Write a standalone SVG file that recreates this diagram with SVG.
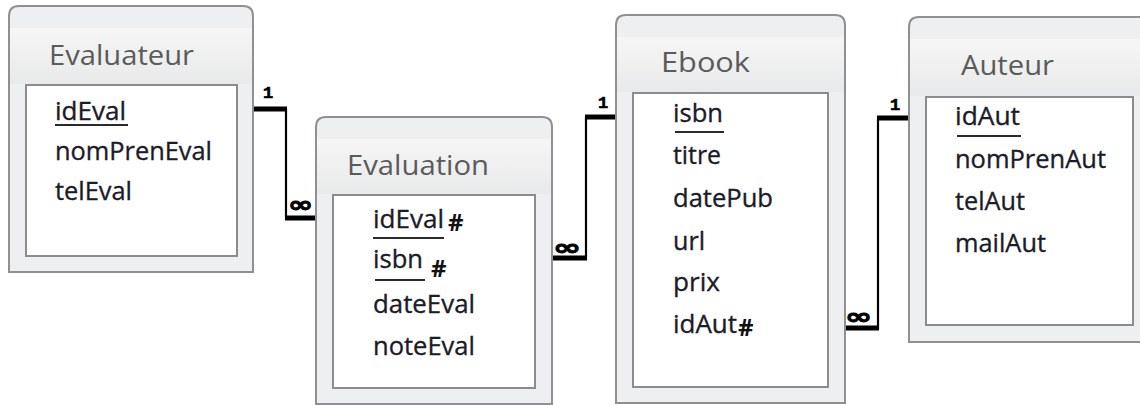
<svg xmlns="http://www.w3.org/2000/svg" width="1140" height="405" viewBox="0 0 1140 405">
<defs>
<linearGradient id="band" x1="0" y1="0" x2="0" y2="1">
<stop offset="0" stop-color="#f6f6f6"/>
<stop offset="1" stop-color="#e8e9ea"/>
</linearGradient>
</defs>
<style>
.outer{fill:#eeeff1;stroke:#8e9094;stroke-width:2}
.band{fill:url(#band)}
.inner{fill:#ffffff;stroke:#8a8c90;stroke-width:2}
.title{font-family:"Open Sans","DejaVu Sans",sans-serif;font-size:28px;fill:#5b5b5b}
.f{font-family:"Open Sans","DejaVu Sans",sans-serif;font-size:25px;fill:#1c1c28;stroke:#1c1c28;stroke-width:0.35}
.h{font-family:"Open Sans","DejaVu Sans",sans-serif;font-size:24px;font-weight:bold;fill:#111111}
.ul{stroke:#2a2a2a;stroke-width:2}
.conn{fill:none;stroke:#000;stroke-width:2.2}
.thick{stroke:#000;stroke-width:5}
.one{font-family:"Liberation Mono","DejaVu Sans Mono",monospace;font-size:17px;font-weight:bold;fill:#000;stroke:#000;stroke-width:0.6}
.inf{font-family:"DejaVu Sans",sans-serif;font-size:22px;font-weight:bold;fill:#000;stroke:#000;stroke-width:0.9}
</style>
<rect width="1140" height="405" fill="#ffffff"/>

<g id="connectors">
<path class="conn" d="M253,109 H286 V218 H317"/>
<line class="thick" x1="253" y1="109" x2="287" y2="109"/>
<line class="thick" x1="285" y1="218" x2="317" y2="218"/>
<text class="one" x="263" y="98">1</text>
<text class="inf" x="288" y="212" textLength="25" lengthAdjust="spacingAndGlyphs">∞</text>

<path class="conn" d="M552,258 H586 V117 H616"/>
<line class="thick" x1="552" y1="258" x2="587" y2="258"/>
<line class="thick" x1="585" y1="117" x2="616" y2="117"/>
<text class="one" x="598" y="108">1</text>
<text class="inf" x="553" y="255" textLength="28" lengthAdjust="spacingAndGlyphs">∞</text>

<path class="conn" d="M845,328 H878 V118 H908"/>
<line class="thick" x1="845" y1="328" x2="879" y2="328"/>
<line class="thick" x1="877" y1="118" x2="908" y2="118"/>
<text class="one" x="890" y="110">1</text>
<text class="inf" x="845" y="324" textLength="27" lengthAdjust="spacingAndGlyphs">∞</text>
</g>

<g id="evaluateur">
<path class="outer" d="M9,272 V16 Q9,6 19,6 H243 Q253,6 253,16 V272 Z"/>
<rect class="band" x="10" y="28" width="242" height="56"/>
<rect class="inner" x="26" y="85" width="211" height="171"/>
<text class="title" x="49" y="65" textLength="145" lengthAdjust="spacingAndGlyphs">Evaluateur</text>
<text class="f" x="55" y="120" textLength="71" lengthAdjust="spacingAndGlyphs">idEval</text>
<line class="ul" x1="55" y1="125" x2="128" y2="125"/>
<text class="f" x="55" y="160" textLength="157" lengthAdjust="spacingAndGlyphs">nomPrenEval</text>
<text class="f" x="55" y="200" textLength="77" lengthAdjust="spacingAndGlyphs">telEval</text>
</g>

<g id="evaluation">
<path class="outer" d="M316,404 V127 Q316,117 326,117 H542 Q552,117 552,127 V404 Z"/>
<rect class="band" x="317" y="139" width="234" height="55"/>
<rect class="inner" x="333" y="195" width="202" height="193"/>
<text class="title" x="347" y="175" textLength="142" lengthAdjust="spacingAndGlyphs">Evaluation</text>
<text class="f" x="373" y="228" textLength="71" lengthAdjust="spacingAndGlyphs">idEval</text>
<text class="h" x="448" y="231">#</text>
<line class="ul" x1="373" y1="238" x2="444" y2="238"/>
<text class="f" x="373" y="268" textLength="50" lengthAdjust="spacingAndGlyphs">isbn</text>
<text class="h" x="431" y="277">#</text>
<line class="ul" x1="375" y1="280" x2="425" y2="280"/>
<text class="f" x="373" y="313" textLength="102" lengthAdjust="spacingAndGlyphs">dateEval</text>
<text class="f" x="373" y="355" textLength="102" lengthAdjust="spacingAndGlyphs">noteEval</text>
</g>

<g id="ebook">
<path class="outer" d="M616,403 V25 Q616,15 626,15 H835 Q845,15 845,25 V403 Z"/>
<rect class="band" x="617" y="37" width="227" height="55"/>
<rect class="inner" x="633" y="93" width="195" height="294"/>
<text class="title" x="661" y="72" textLength="89" lengthAdjust="spacingAndGlyphs">Ebook</text>
<text class="f" x="673" y="122" textLength="50" lengthAdjust="spacingAndGlyphs">isbn</text>
<line class="ul" x1="675" y1="132" x2="724" y2="132"/>
<text class="f" x="673" y="164" textLength="48" lengthAdjust="spacingAndGlyphs">titre</text>
<text class="f" x="673" y="207" textLength="100" lengthAdjust="spacingAndGlyphs">datePub</text>
<text class="f" x="673" y="250" textLength="32" lengthAdjust="spacingAndGlyphs">url</text>
<text class="f" x="673" y="291" textLength="47" lengthAdjust="spacingAndGlyphs">prix</text>
<text class="f" x="673" y="333" textLength="64" lengthAdjust="spacingAndGlyphs">idAut</text>
<text class="h" x="738" y="336">#</text>
</g>

<g id="auteur">
<path class="outer" d="M909,342 V27 Q909,17 919,17 H1150 V342 Z"/>
<rect class="band" x="910" y="39" width="235" height="57"/>
<rect class="inner" x="926" y="97" width="207" height="228"/>
<text class="title" x="961" y="75" textLength="93" lengthAdjust="spacingAndGlyphs">Auteur</text>
<text class="f" x="955" y="125" textLength="65" lengthAdjust="spacingAndGlyphs">idAut</text>
<line class="ul" x1="957" y1="136" x2="1021" y2="136"/>
<text class="f" x="955" y="168" textLength="151" lengthAdjust="spacingAndGlyphs">nomPrenAut</text>
<text class="f" x="955" y="210" textLength="70" lengthAdjust="spacingAndGlyphs">telAut</text>
<text class="f" x="955" y="252" textLength="91" lengthAdjust="spacingAndGlyphs">mailAut</text>
</g>
</svg>
